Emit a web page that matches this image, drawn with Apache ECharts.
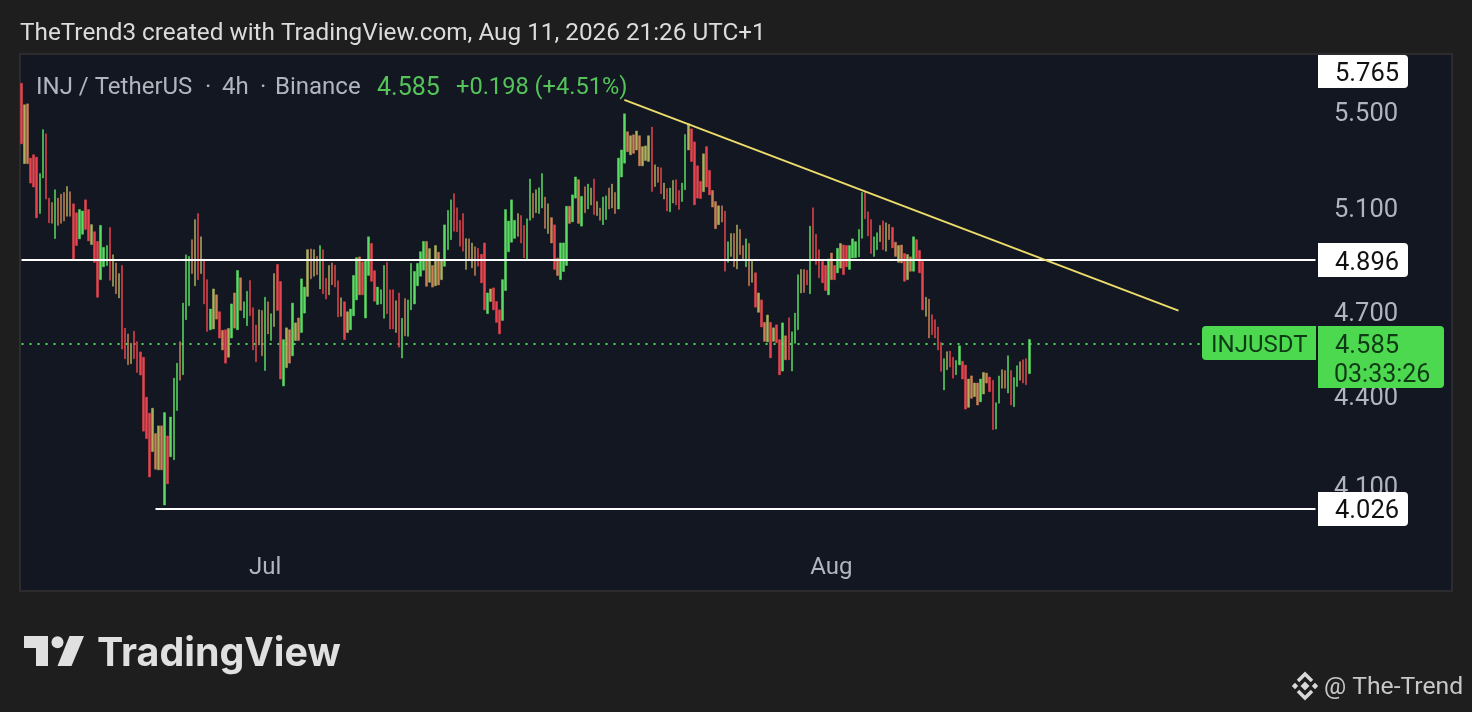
<!DOCTYPE html>
<html>
<head>
<meta charset="utf-8">
<style>html,body{margin:0;padding:0;background:#1e1e1e}#c{width:1472px;height:712px}</style>
<script src="https://cdn.jsdelivr.net/npm/echarts@6/dist/echarts.min.js"></script>
</head>
<body>
<div id="c"></div>
<script>
const highs = [
5.625,5.531,5.535,5.304,5.318,5.308,5.240,5.424,5.406,5.140,
5.122,5.174,5.140,5.156,5.163,5.187,5.166,5.117,5.081,5.094,
5.088,5.133,5.094,5.034,5.006,4.968,5.031,4.945,4.952,5.023,
4.916,4.885,4.844,4.875,4.641,4.620,4.586,4.630,4.592,4.555,
4.536,4.396,4.341,4.358,4.272,4.298,4.298,4.343,4.264,4.328,
4.462,4.515,4.592,4.733,4.916,4.910,4.975,5.054,5.078,4.986,
4.900,4.821,4.711,4.786,4.764,4.701,4.633,4.635,4.640,4.730,
4.771,4.856,4.828,4.738,4.777,4.818,4.716,4.652,4.708,4.706,
4.755,4.738,4.694,4.844,4.879,4.814,4.599,4.642,4.635,4.733,
4.660,4.678,4.824,4.793,4.936,4.939,4.936,4.910,4.952,4.936,
4.826,4.875,4.885,4.876,4.817,4.753,4.738,4.701,4.711,4.837,
4.905,4.908,4.889,4.893,4.986,4.960,4.855,4.793,4.783,4.875,
4.887,4.783,4.783,4.742,4.771,4.677,4.750,4.745,4.883,4.852,
4.883,4.928,4.968,4.968,4.940,4.875,4.952,4.926,4.898,5.033,
5.091,5.133,5.158,5.101,5.051,5.078,4.979,4.978,4.962,4.947,
4.941,4.918,4.962,4.771,4.786,4.790,4.739,4.708,4.821,5.094,
5.048,5.133,5.051,5.078,5.070,5.031,5.057,5.218,5.160,5.174,
5.182,5.240,5.144,5.117,5.062,5.033,4.903,4.962,4.962,5.107,
5.107,5.153,5.226,5.215,5.147,5.186,5.197,5.181,5.218,5.126,
5.100,5.144,5.149,5.181,5.197,5.163,5.304,5.338,5.492,5.415,
5.398,5.402,5.418,5.398,5.352,5.355,5.398,5.435,5.276,5.267,
5.264,5.201,5.179,5.181,5.212,5.215,5.171,5.201,5.403,5.449,
5.427,5.372,5.272,5.208,5.322,5.352,5.253,5.171,5.126,5.109,
5.109,5.088,4.967,4.999,4.999,5.033,5.015,4.952,4.978,4.960,
4.898,4.847,4.771,4.745,4.662,4.689,4.662,4.642,4.653,4.599,
4.660,4.613,4.679,4.628,4.696,4.840,4.860,4.860,4.857,5.028,
5.101,4.996,4.936,4.891,4.875,4.900,4.923,4.875,4.941,4.960,
4.954,4.952,4.952,4.978,4.967,5.015,5.163,5.163,5.085,5.054,
4.986,5.002,5.031,5.049,5.041,5.035,5.023,4.965,4.952,4.954,
4.921,4.917,4.908,4.986,4.975,4.933,4.891,4.755,4.748,4.690,
4.672,4.645,4.589,4.531,4.556,4.558,4.536,4.524,4.577,4.522,
4.508,4.459,4.470,4.445,4.445,4.459,4.482,4.480,4.466,4.455,
4.377,4.470,4.492,4.489,4.541,4.489,4.464,4.506,4.520,4.527,
4.531,4.600];
const lows = [
5.364,5.281,5.281,5.201,5.185,5.061,5.078,5.222,5.136,5.041,
5.039,4.979,5.031,5.039,5.048,5.067,5.067,4.900,4.952,4.978,
4.996,5.015,4.970,4.956,4.887,4.755,4.821,4.870,4.875,4.819,
4.796,4.768,4.752,4.565,4.531,4.509,4.513,4.531,4.482,4.473,
4.280,4.255,4.129,4.212,4.154,4.152,4.152,4.039,4.107,4.195,
4.185,4.350,4.455,4.474,4.672,4.723,4.844,4.798,4.821,4.844,
4.730,4.629,4.635,4.638,4.674,4.605,4.562,4.515,4.536,4.605,
4.641,4.635,4.706,4.678,4.650,4.686,4.562,4.520,4.580,4.541,
4.489,4.620,4.596,4.647,4.706,4.459,4.435,4.499,4.515,4.541,
4.596,4.596,4.625,4.696,4.758,4.824,4.834,4.840,4.786,4.768,
4.748,4.764,4.802,4.793,4.682,4.684,4.599,4.625,4.635,4.686,
4.745,4.764,4.764,4.678,4.837,4.815,4.740,4.728,4.730,4.677,
4.694,4.638,4.638,4.625,4.572,4.533,4.613,4.611,4.708,4.730,
4.798,4.834,4.857,4.796,4.811,4.793,4.798,4.801,4.821,4.872,
4.936,4.975,5.008,5.006,4.949,4.930,4.860,4.898,4.866,4.837,
4.872,4.809,4.708,4.694,4.739,4.708,4.662,4.620,4.669,4.780,
4.928,4.965,4.980,4.988,4.962,4.904,4.900,5.051,5.061,5.081,
5.078,5.100,5.019,4.999,4.962,4.860,4.837,4.821,4.852,4.875,
5.039,5.045,5.140,5.039,5.028,5.081,5.096,5.112,5.074,5.070,
5.051,5.034,5.054,5.096,5.100,5.078,5.096,5.226,5.283,5.331,
5.318,5.324,5.338,5.272,5.272,5.294,5.290,5.167,5.187,5.204,
5.158,5.136,5.088,5.085,5.120,5.113,5.094,5.126,5.174,5.338,
5.290,5.113,5.140,5.138,5.166,5.185,5.153,5.104,5.018,5.034,
5.044,4.853,4.887,4.910,4.870,4.862,4.917,4.895,4.870,4.798,
4.811,4.718,4.699,4.645,4.593,4.591,4.534,4.593,4.588,4.474,
4.487,4.527,4.527,4.487,4.586,4.635,4.771,4.773,4.801,4.768,
4.895,4.879,4.828,4.809,4.780,4.764,4.821,4.821,4.847,4.865,
4.840,4.870,4.860,4.904,4.905,4.908,4.980,5.057,4.989,4.921,
4.910,4.936,4.967,4.936,4.930,4.975,4.943,4.910,4.887,4.885,
4.815,4.821,4.853,4.853,4.898,4.847,4.708,4.684,4.605,4.617,
4.605,4.562,4.486,4.421,4.492,4.501,4.462,4.474,4.509,4.459,
4.355,4.361,4.392,4.398,4.369,4.380,4.407,4.445,4.415,4.285,
4.287,4.375,4.427,4.427,4.410,4.369,4.363,4.433,4.455,4.445,
4.439,4.478];
const tones = (
"roarrrggrr"+"agaaaoarrg"+"grrorrgggr"+"oaorraorrr"+"rrroaoagrg"+
"ggagggaoro"+"rrgoararog"+"agaggrrroa"+"gagorrgoag"+
"oaggoaoagr"+"roarrorogg"+"garggrrggg"+"rrrorgaggg"+"gggaoaoaog"+
"ggrrrroaoa"+"rrrgorrrgg"+"gggorrggao"+"ggaoaraggg"+"aggagagoro"+
"aggaoaggga"+"oaoaoooroa"+"rorgorrggo"+"rrrrorraao"+"argoaoaaga"+
"ororaororr"+"gargggoarg"+"rrrrrgargo"+"rrgggggrrr"+
"ggoroaraoa"+"roagrrroar"+"rrrgorrggr"+"roaoagoarr"+"ggoagrggorrg").split("");

const barCount = 426;
const firstBarTime = Date.UTC(2026, 5, 17, 16);
const fourHours = 4 * 3600 * 1000;
const categories = [];
for (let i = 0; i < barCount; i++) categories.push(new Date(firstBarTime + i * fourHours).toISOString().slice(0, 16));
const monthTicks = {"2026-07-01T00:00": "Jul", "2026-08-01T00:00": "Aug"};
const priceTicks = [4.1, 4.4, 4.7, 5.1, 5.5];
const resistanceLevel = 4.896;
const supportLevel = 4.026;
const supportStart = "2026-06-25T00:00";
const lastPrice = 4.585;
const lastPriceEnd = categories[387];
const topLabelValue = "5.765";
const trendStart = [categories[198], 5.552];
const trendEnd = [categories[380], 4.705];

const palette = {g:"#5bdc62", r:"#e8444f", o:"#adb05c", a:"#cb8155"};
const candleData = highs.map((h, i) => {
  const t = tones[i], c = palette[t], down = t === "r" || t === "a";
  return {
    value: down ? [h, lows[i], lows[i], h] : [lows[i], h, lows[i], h],
    itemStyle: {color: c, color0: c, borderColor: c, borderColor0: c, borderWidth: 0.5}
  };
});

const chart = echarts.init(document.getElementById("c"), null, {renderer: "canvas"});
const FONT = "Roboto";
chart.setOption({
  backgroundColor: "#1e1e1e",
  animation: false,
  grid: {left: 20, right: 155, top: 54, bottom: 167, containLabel: false},
  xAxis: {
    type: "category", data: categories, boundaryGap: true,
    axisLine: {show: false}, axisTick: {show: false}, splitLine: {show: false},
    axisLabel: {
      interval: (i, v) => v in monthTicks,
      formatter: v => monthTicks[v] || "",
      color: "#b2b5be", fontFamily: FONT, fontSize: 24, margin: 11, hideOverlap: false
    }
  },
  yAxis: {
    type: "log", logBase: 10, position: "right", min: 3.914, max: 5.756, scale: true,
    axisLine: {show: false}, axisTick: {show: false}, splitLine: {show: false},
    axisLabel: {
      customValues: priceTicks, color: "#b2b5be", fontFamily: FONT, fontSize: 25.5,
      margin: 17, align: "left", verticalAlign: "top", lineHeight: 6,
      formatter: v => Number(v).toFixed(3)
    }
  },
  series: [
    {
      type: "line", data: [], silent: true, z: 1,
      markLine: {
        silent: true, symbol: "none", z: 1, label: {show: false},
        lineStyle: {color: "#52d65e", type: [2, 6], width: 2},
        data: [[{coord: [categories[0], lastPrice]}, {coord: [lastPriceEnd, lastPrice]}]]
      }
    },
    {
      type: "candlestick", data: candleData, barWidth: 2, silent: true, z: 2,
      markLine: {
        silent: true, symbol: "none", z: 6, label: {show: false}, animation: false,
        data: [
          [{coord: [categories[0], resistanceLevel], lineStyle: {color: "#ffffff", width: 2, type: "solid"}},
           {coord: [categories[barCount - 1], resistanceLevel]}],
          [{coord: [supportStart, supportLevel], lineStyle: {color: "#ffffff", width: 2, type: "solid"}},
           {coord: [categories[barCount - 1], supportLevel]}],
          [{coord: trendStart, lineStyle: {color: "#ecdc6c", width: 2, type: "solid"}},
           {coord: trendEnd}]
        ]
      }
    }
  ]
});

const yOf = v => chart.convertToPixel({yAxisIndex: 0}, v);
const txt = (x, y, text, color, size, extra) => ({
  type: "text", x, y, z: 120, silent: true,
  style: Object.assign({text, fill: color, fontFamily: FONT, fontSize: size, verticalAlign: "middle", align: "left"}, extra || {})
});
const box = (x, y, w, h, fill, r) => ({type: "rect", z: 110, silent: true, shape: {x, y, width: w, height: h, r}, style: {fill}});
const diamond = (cx, cy, s, fill) => ({type: "polygon", z: 120, silent: true, shape: {points: [[cx, cy - s], [cx + s, cy], [cx, cy + s], [cx - s, cy]]}, style: {fill}});
const chevron = (pts, stroke) => ({type: "polyline", z: 120, silent: true, shape: {points: pts}, style: {stroke, fill: null, lineWidth: 3.5}});
const yRes = yOf(resistanceLevel), ySup = yOf(supportLevel), yLast = yOf(lastPrice);
const green = "#4cd950", boxText = "#111111", darkGreen = "#0f3a16";

chart.setOption({graphic: {elements: [
  {type: "rect", z: -10, silent: true, shape: {x: 20, y: 54, width: 1432, height: 537},
   style: {fill: "#131721", stroke: "#2c2c2e", lineWidth: 2}},

  txt(20, 34, "TheTrend3 created with TradingView.com, Aug 11, 2026 21:26 UTC+1", "#dcdcdc", 24.3),
  txt(36, 88, "INJ / TetherUS", "#b2b5be", 24),
  txt(205, 88, "·", "#b2b5be", 24),
  txt(222, 88, "4h", "#b2b5be", 24),
  txt(260, 88, "·", "#b2b5be", 24),
  txt(275, 88, "Binance", "#b2b5be", 24),
  txt(377, 89, "4.585", "#54c45a", 25),
  txt(456, 88, "+0.198 (+4.51%)", "#54c45a", 23.6),

  box(1318, 55, 90, 33, "#ffffff", [0, 4, 4, 0]),
  txt(1335, 75, topLabelValue, boxText, 25.5),
  box(1318, yRes - 17, 90, 34, "#ffffff", [0, 4, 4, 0]),
  txt(1335, yRes + 4, String(resistanceLevel.toFixed(3)), boxText, 25.5),
  box(1318, ySup - 17, 90, 34, "#ffffff", [0, 4, 4, 0]),
  txt(1335, ySup + 3, String(supportLevel.toFixed(3)), boxText, 25.5),

  box(1202, yLast - 17.5, 114, 34, green, [4, 0, 0, 4]),
  txt(1211, yLast + 2, "INJUSDT", darkGreen, 24),
  box(1318, yLast - 17.5, 126, 62, green, [0, 4, 4, 0]),
  txt(1335, yLast + 3, lastPrice.toFixed(3), darkGreen, 25.5),
  txt(1334, yLast + 32, "03:33:26", darkGreen, 25),

  {type: "polygon", z: 120, silent: true, shape: {points: [[24, 636], [48, 636], [48, 666], [36, 666], [36, 648], [24, 648]]}, style: {fill: "#e0e0e0"}},
  {type: "circle", z: 120, silent: true, shape: {cx: 57.5, cy: 642.3, r: 6}, style: {fill: "#e0e0e0"}},
  {type: "polygon", z: 120, silent: true, shape: {points: [[69.5, 636], [84, 636], [71.5, 666], [57.5, 666]]}, style: {fill: "#e0e0e0"}},
  txt(97, 654, "TradingView", "#e0e0e0", 39.4, {fontFamily: "Inter", fontWeight: 700}),

  diamond(1305, 686, 4.5, "#d8d8d8"),
  diamond(1295, 686, 3.2, "#d8d8d8"),
  diamond(1315, 686, 3.2, "#d8d8d8"),
  chevron([[1298, 681], [1305, 674], [1312, 681]], "#d8d8d8"),
  chevron([[1298, 691], [1305, 698], [1312, 691]], "#d8d8d8"),
  txt(1324, 688, "@ The-Trend", "#c8c8c8", 24.7)
]}});
</script>
</body>
</html>
